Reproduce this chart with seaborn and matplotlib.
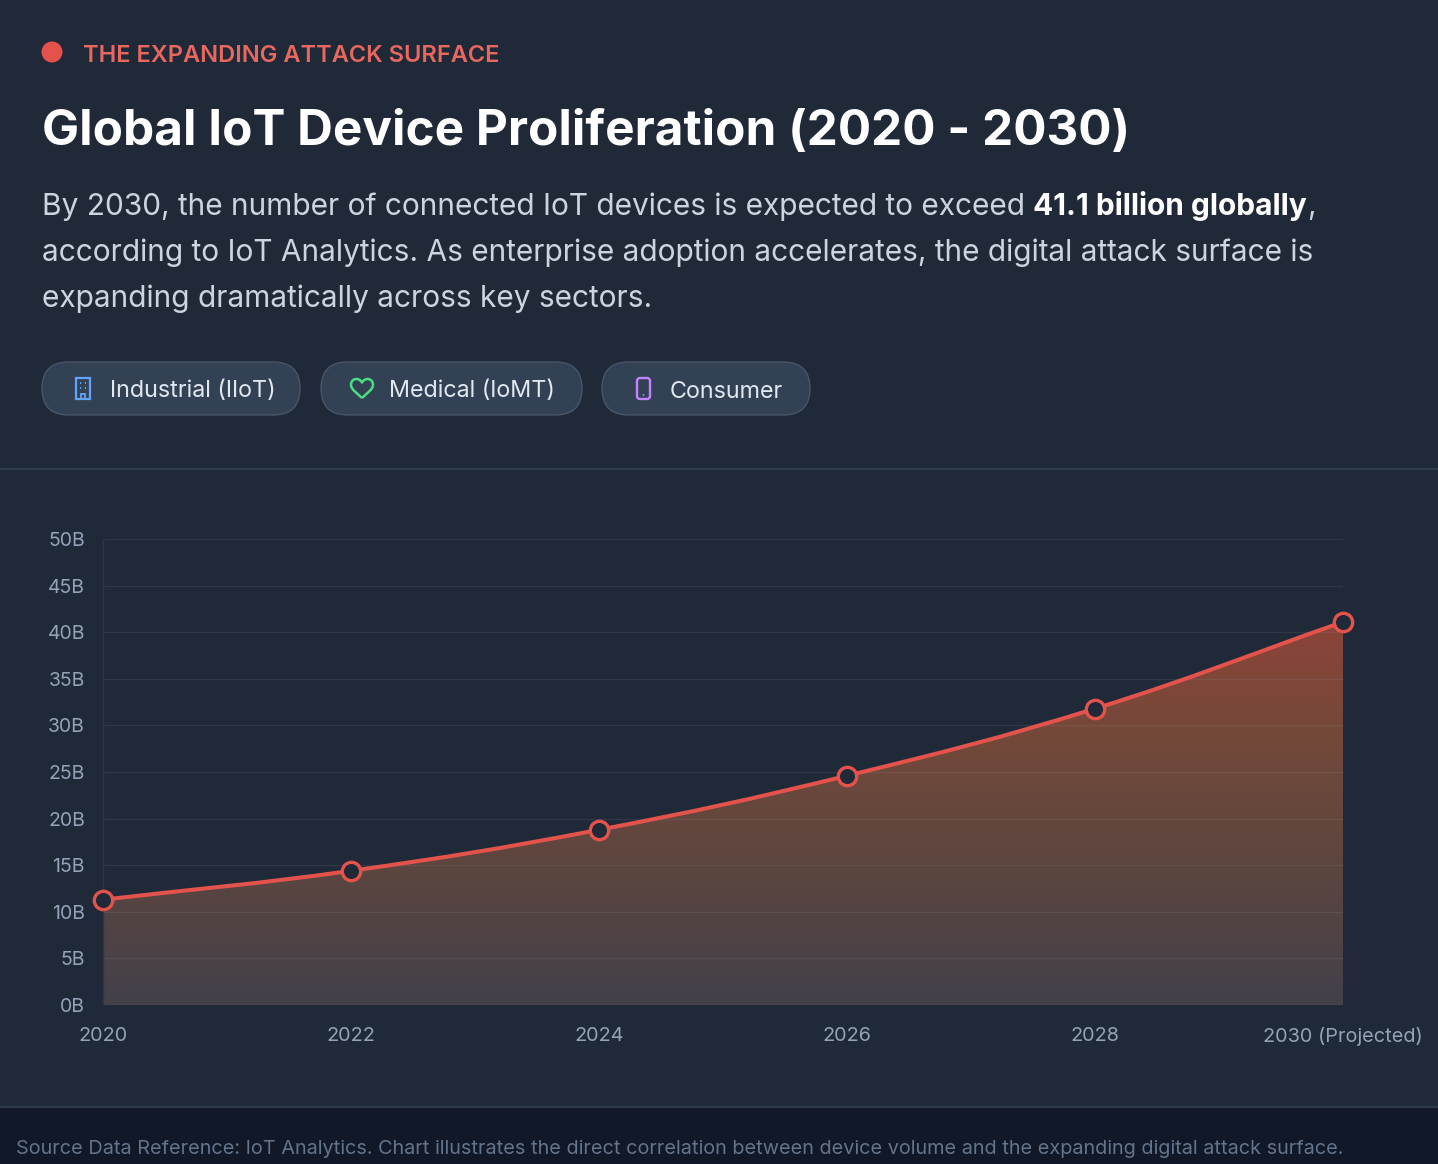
import numpy as np
import matplotlib
matplotlib.use("Agg")
import matplotlib.pyplot as plt
import seaborn as sns
from matplotlib.patches import FancyBboxPatch, Circle, Rectangle, PathPatch
from matplotlib.path import Path
from matplotlib.colors import LinearSegmentedColormap

# ------------------------------------------------
# Data
# ------------------------------------------------
years = ["2020", "2022", "2024", "2026", "2028", "2030 (Projected)"]
devices_bn = [11.3, 14.4, 18.8, 24.6, 31.8, 41.1]
y_ticks = [0, 5, 10, 15, 20, 25, 30, 35, 40, 45, 50]
y_tick_labels = [f"{v}B" for v in y_ticks]
sectors = ["Industrial (IIoT)", "Medical (IoMT)", "Consumer"]

# ------------------------------------------------
# Style
# ------------------------------------------------
BG = "#1f2937"
FOOTER_BG = "#111827"
RULE = "#334155"
RED = "#e4534b"
TICK = "#94a3b8"
sns.set_style("dark")
plt.rcParams["font.family"] = ["Inter", "DejaVu Sans"]

fig = plt.figure(figsize=(14.38, 11.64), dpi=100, facecolor=BG)

# full-figure overlay in pixel units for the header / footer
bg = fig.add_axes([0, 0, 1, 1])
bg.set_xlim(0, 1438)
bg.set_ylim(1164, 0)
bg.axis("off")

bg.add_patch(Rectangle((0, 1107), 1438, 57, color=FOOTER_BG, lw=0))
bg.plot([0, 1438], [469, 469], color=RULE, lw=1.2)
bg.plot([0, 1438], [1107, 1107], color=RULE, lw=1.2)

bg.add_patch(Circle((52, 52), 10.5, color=RED, lw=0))
bg.text(83, 61.5, "THE EXPANDING ATTACK SURFACE", fontsize=17, fontweight="semibold",
        color="#e8675f", va="baseline")
bg.text(42, 145, "Global IoT Device Proliferation (2020 - 2030)", fontsize=35.6,
        fontweight="bold", color="white", va="baseline")

renderer = fig.canvas.get_renderer()
sub_kw = dict(fontsize=21.5, color="#cbd5e1", va="baseline")
t1 = bg.text(42, 215, "By 2030, the number of connected IoT devices is expected to exceed ", **sub_kw)
x_end = t1.get_window_extent(renderer).x1
t2 = bg.text(x_end, 215, "41.1 billion globally", fontsize=21.5, fontweight="bold",
             color="white", va="baseline")
x_end = t2.get_window_extent(renderer).x1
bg.text(x_end, 215, ",", **sub_kw)
bg.text(42, 261, "according to IoT Analytics. As enterprise adoption accelerates, the digital attack surface is", **sub_kw)
bg.text(42, 307, "expanding dramatically across key sectors.", **sub_kw)

# sector pills
pill_x = [42, 321, 602]
pill_w = [258, 261, 208]
text_x = [110, 389, 670]
for px, pw, tx, label in zip(pill_x, pill_w, text_x, sectors):
    bg.add_patch(FancyBboxPatch((px, 362), pw, 53, boxstyle="round,pad=0,rounding_size=26.5",
                                fc="#334155", ec="#475569", lw=1))
    bg.text(tx, 397.5, label, fontsize=16.8, color="#e2e8f0", va="baseline")

# building icon
blue = "#60a5fa"
bg.add_patch(Rectangle((76, 378), 14, 21, fill=False, ec=blue, lw=1.6))
for wx in (80.5, 85.5):
    for wy in (383, 388):
        bg.add_patch(Rectangle((wx - 0.9, wy - 0.9), 1.8, 1.8, color=blue, lw=0))
bg.add_patch(Rectangle((81, 393.5), 4, 5.5, fill=False, ec=blue, lw=1.3))

# heart icon (outline)
green = "#4ade80"
hx, hy = 362, 389
heart_verts = [
    (hx, hy + 9),
    (hx - 4, hy + 5), (hx - 11, hy + 0.5), (hx - 11, hy - 4),
    (hx - 11, hy - 11), (hx - 3, hy - 12), (hx, hy - 6.5),
    (hx + 3, hy - 12), (hx + 11, hy - 11), (hx + 11, hy - 4),
    (hx + 11, hy + 0.5), (hx + 4, hy + 5), (hx, hy + 9),
]
heart_codes = [Path.MOVETO] + [Path.CURVE4] * 12
bg.add_patch(PathPatch(Path(heart_verts, heart_codes), fill=False, ec=green, lw=1.8,
                       joinstyle="round"))

# phone icon
purple = "#c084fc"
bg.add_patch(FancyBboxPatch((637, 378), 13, 21, boxstyle="round,pad=0,rounding_size=3",
                            fill=False, ec=purple, lw=1.7))
bg.add_patch(Circle((643.5, 395), 0.9, color=purple, lw=0))

bg.text(16, 1154, "Source Data Reference: IoT Analytics. Chart illustrates the direct correlation "
        "between device volume and the expanding digital attack surface.",
        fontsize=14.3, color="#64748b", va="baseline")

# ------------------------------------------------
# Chart
# ------------------------------------------------
ax = fig.add_axes([103 / 1438, 159 / 1164, 1240 / 1438, 466 / 1164])
ax.set_facecolor(BG)
x_idx = np.arange(len(years))
ax.set_xlim(0, len(years) - 1)
ax.set_ylim(0, 50)

# smooth curve (bezier control points from the points, tension 0.4)
pts = ax.transData.transform(np.column_stack([x_idx, devices_bn]))
tension = 0.4
prev_cp, next_cp = [], []
for i in range(len(pts)):
    p0 = pts[max(i - 1, 0)]
    p1 = pts[i]
    p2 = pts[min(i + 1, len(pts) - 1)]
    d01 = np.hypot(*(p1 - p0))
    d12 = np.hypot(*(p2 - p1))
    tot = d01 + d12
    fa = tension * d01 / tot
    fb = tension * d12 / tot
    prev_cp.append(p1 - fa * (p2 - p0))
    next_cp.append(p1 + fb * (p2 - p0))

verts = [pts[0]]
codes = [Path.MOVETO]
for i in range(len(pts) - 1):
    verts += [next_cp[i], prev_cp[i + 1], pts[i + 1]]
    codes += [Path.CURVE4] * 3
inv = ax.transData.inverted()
curve = inv.transform(np.array(verts))

line_path = Path(curve, codes)
fill_verts = np.vstack([curve, [[x_idx[-1], 0], [x_idx[0], 0], curve[0]]])
fill_codes = codes + [Path.LINETO, Path.LINETO, Path.CLOSEPOLY]
fill_patch = PathPatch(Path(fill_verts, fill_codes), fc="none", ec="none",
                       transform=ax.transData)
ax.add_patch(fill_patch)

grad_cmap = LinearSegmentedColormap.from_list(
    "attack", ["#43404b", "#5a4540", "#71493a", "#8c4438"])
grad = np.linspace(0, 1, 256).reshape(-1, 1)
im = ax.imshow(grad, extent=[x_idx[0], x_idx[-1], 0, max(devices_bn)], origin="lower",
               aspect="auto", cmap=grad_cmap, zorder=1, interpolation="bicubic")
im.set_clip_path(fill_patch)

ax.add_patch(PathPatch(line_path, fc="none", ec=RED, lw=2.9, zorder=3,
                       capstyle="round", joinstyle="round"))
sns.scatterplot(x=x_idx, y=devices_bn, ax=ax, s=175, color=BG, edgecolor=RED,
                linewidth=2.4, zorder=4, clip_on=False)

ax.set_xlim(0, len(years) - 1)
ax.set_ylim(0, 50)
ax.set_axisbelow("line")
ax.set_yticks(y_ticks)
ax.set_yticklabels(y_tick_labels)
ax.set_xticks(x_idx)
ax.set_xticklabels(years)
ax.grid(False)
ax.grid(axis="y", color="#94a3b8", alpha=0.13, lw=1)
ax.tick_params(axis="y", length=6, width=1, color="#2c3646", pad=7,
               labelsize=14, labelcolor=TICK)
ax.tick_params(axis="x", length=0, pad=16, labelsize=14.3, labelcolor=TICK)
for side in ("top", "right", "bottom"):
    ax.spines[side].set_visible(False)
ax.spines["left"].set_color("#2a3444")
ax.spines["left"].set_linewidth(1)
ax.set_xlabel("")
ax.set_ylabel("")

fig.savefig("out.png", dpi=100, facecolor=BG)
